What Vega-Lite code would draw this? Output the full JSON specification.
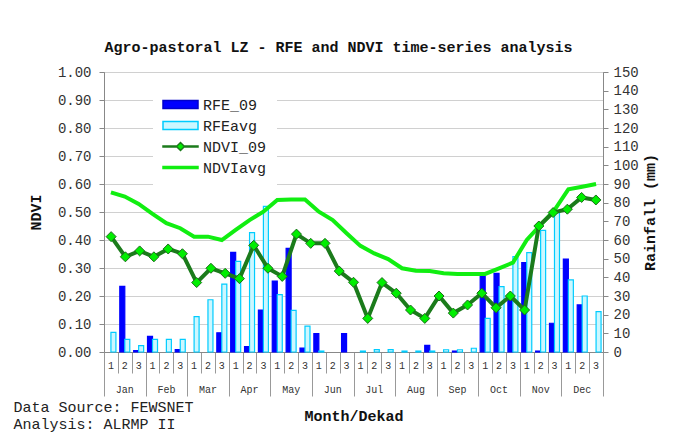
{
  "$schema": "https://vega.github.io/schema/vega-lite/v6.json",
  "width": 499,
  "height": 280,
  "autosize": {"type": "none"},
  "padding": {"left": 104, "top": 72, "right": 75, "bottom": 88},
  "background": "white",
  "title": {
    "text": "Agro-pastoral LZ - RFE and NDVI time-series analysis",
    "font": "Liberation Mono",
    "fontSize": 15,
    "fontWeight": "bold",
    "color": "#111",
    "anchor": "middle",
    "frame": "group",
    "offset": 10,
    "dx": -15
  },
  "config": {
    "view": {"stroke": "#888"},
    "axis": {
      "labelFont": "Liberation Mono",
      "titleFont": "Liberation Mono",
      "labelColor": "#333",
      "titleColor": "#111",
      "domainColor": "#888",
      "tickColor": "#888"
    }
  },
  "data": {
    "values": [
      {"i": 1, "m": "Jan", "k": "Jan 1", "RFE_09": 0, "RFEavg": 10.5, "NDVI_09": 0.412, "NDVIavg": 0.570},
      {"i": 2, "m": "Jan", "k": "Jan 2", "RFE_09": 35.2, "RFEavg": 6.8, "NDVI_09": 0.340, "NDVIavg": 0.555},
      {"i": 3, "m": "Jan", "k": "Jan 3", "RFE_09": 0.7, "RFEavg": 3.4, "NDVI_09": 0.361, "NDVIavg": 0.529},
      {"i": 4, "m": "Feb", "k": "Feb 1", "RFE_09": 8.4, "RFEavg": 6.8, "NDVI_09": 0.340, "NDVIavg": 0.493},
      {"i": 5, "m": "Feb", "k": "Feb 2", "RFE_09": 0, "RFEavg": 6.8, "NDVI_09": 0.368, "NDVIavg": 0.460},
      {"i": 6, "m": "Feb", "k": "Feb 3", "RFE_09": 1.3, "RFEavg": 6.8, "NDVI_09": 0.351, "NDVIavg": 0.442},
      {"i": 7, "m": "Mar", "k": "Mar 1", "RFE_09": 0, "RFEavg": 18.9, "NDVI_09": 0.248, "NDVIavg": 0.412},
      {"i": 8, "m": "Mar", "k": "Mar 2", "RFE_09": 0, "RFEavg": 28.0, "NDVI_09": 0.299, "NDVIavg": 0.412},
      {"i": 9, "m": "Mar", "k": "Mar 3", "RFE_09": 10.3, "RFEavg": 36.4, "NDVI_09": 0.281, "NDVIavg": 0.400},
      {"i": 10, "m": "Apr", "k": "Apr 1", "RFE_09": 53.4, "RFEavg": 48.6, "NDVI_09": 0.262, "NDVIavg": 0.436},
      {"i": 11, "m": "Apr", "k": "Apr 2", "RFE_09": 2.9, "RFEavg": 63.9, "NDVI_09": 0.381, "NDVIavg": 0.471},
      {"i": 12, "m": "Apr", "k": "Apr 3", "RFE_09": 22.5, "RFEavg": 78.0, "NDVI_09": 0.299, "NDVIavg": 0.501},
      {"i": 13, "m": "May", "k": "May 1", "RFE_09": 38.0, "RFEavg": 30.7, "NDVI_09": 0.270, "NDVIavg": 0.543},
      {"i": 14, "m": "May", "k": "May 2", "RFE_09": 55.5, "RFEavg": 22.3, "NDVI_09": 0.421, "NDVIavg": 0.545},
      {"i": 15, "m": "May", "k": "May 3", "RFE_09": 2.1, "RFEavg": 13.9, "NDVI_09": 0.388, "NDVIavg": 0.545},
      {"i": 16, "m": "Jun", "k": "Jun 1", "RFE_09": 9.8, "RFEavg": 0.5, "NDVI_09": 0.388, "NDVIavg": 0.501},
      {"i": 17, "m": "Jun", "k": "Jun 2", "RFE_09": 0, "RFEavg": 0, "NDVI_09": 0.289, "NDVIavg": 0.471},
      {"i": 18, "m": "Jun", "k": "Jun 3", "RFE_09": 9.8, "RFEavg": 0, "NDVI_09": 0.249, "NDVIavg": 0.424},
      {"i": 19, "m": "Jul", "k": "Jul 1", "RFE_09": 0, "RFEavg": 0.5, "NDVI_09": 0.120, "NDVIavg": 0.379},
      {"i": 20, "m": "Jul", "k": "Jul 2", "RFE_09": 0, "RFEavg": 1.3, "NDVI_09": 0.248, "NDVIavg": 0.352},
      {"i": 21, "m": "Jul", "k": "Jul 3", "RFE_09": 0, "RFEavg": 1.3, "NDVI_09": 0.210, "NDVIavg": 0.332},
      {"i": 22, "m": "Aug", "k": "Aug 1", "RFE_09": 0, "RFEavg": 0.5, "NDVI_09": 0.150, "NDVIavg": 0.299},
      {"i": 23, "m": "Aug", "k": "Aug 2", "RFE_09": 0, "RFEavg": 0.5, "NDVI_09": 0.120, "NDVIavg": 0.290},
      {"i": 24, "m": "Aug", "k": "Aug 3", "RFE_09": 3.6, "RFEavg": 0.5, "NDVI_09": 0.200, "NDVIavg": 0.289},
      {"i": 25, "m": "Sep", "k": "Sep 1", "RFE_09": 0, "RFEavg": 1.2, "NDVI_09": 0.139, "NDVIavg": 0.281},
      {"i": 26, "m": "Sep", "k": "Sep 2", "RFE_09": 0.5, "RFEavg": 1.2, "NDVI_09": 0.168, "NDVIavg": 0.279},
      {"i": 27, "m": "Sep", "k": "Sep 3", "RFE_09": 0, "RFEavg": 2.0, "NDVI_09": 0.210, "NDVIavg": 0.279},
      {"i": 28, "m": "Oct", "k": "Oct 1", "RFE_09": 40.7, "RFEavg": 18.0, "NDVI_09": 0.158, "NDVIavg": 0.279},
      {"i": 29, "m": "Oct", "k": "Oct 2", "RFE_09": 42.1, "RFEavg": 35.0, "NDVI_09": 0.200, "NDVIavg": 0.299},
      {"i": 30, "m": "Oct", "k": "Oct 3", "RFE_09": 30.9, "RFEavg": 51.1, "NDVI_09": 0.150, "NDVIavg": 0.319},
      {"i": 31, "m": "Nov", "k": "Nov 1", "RFE_09": 47.9, "RFEavg": 53.2, "NDVI_09": 0.450, "NDVIavg": 0.400},
      {"i": 32, "m": "Nov", "k": "Nov 2", "RFE_09": 0.5, "RFEavg": 65.2, "NDVI_09": 0.498, "NDVIavg": 0.454},
      {"i": 33, "m": "Nov", "k": "Nov 3", "RFE_09": 15.4, "RFEavg": 75.2, "NDVI_09": 0.510, "NDVIavg": 0.507},
      {"i": 34, "m": "Dec", "k": "Dec 1", "RFE_09": 49.8, "RFEavg": 38.6, "NDVI_09": 0.552, "NDVIavg": 0.581},
      {"i": 35, "m": "Dec", "k": "Dec 2", "RFE_09": 25.2, "RFEavg": 30.0, "NDVI_09": 0.543, "NDVIavg": 0.590},
      {"i": 36, "m": "Dec", "k": "Dec 3", "RFE_09": 0, "RFEavg": 21.6, "NDVI_09": null, "NDVIavg": 0.600}
    ]
  },
  "layer": [
    {
      "mark": {"type": "rule", "opacity": 0},
      "encoding": {
        "x": {
          "field": "i",
          "type": "quantitative",
          "scale": {"domain": [0, 36], "nice": false, "zero": false},
          "axis": {
            "orient": "bottom",
            "values": [0,1,2,3,4,5,6,7,8,9,10,11,12,13,14,15,16,17,18,19,20,21,22,23,24,25,26,27,28,29,30,31,32,33,34,35,36],
            "labels": false,
            "domain": false,
            "grid": false,
            "ticks": true,
            "tickColor": "#999",
            "tickSize": {"condition": {"test": "datum.value % 3 == 0", "value": 44}, "value": 21},
            "title": ["Data Source: FEWSNET", "Analysis: ALRMP II"],
            "titleFontSize": 15,
            "titleFontWeight": "normal",
            "titleColor": "#222",
            "titleAlign": "left",
            "titleAnchor": "start",
            "titleBaseline": "alphabetic",
            "titleLineHeight": 17,
            "titleX": -91,
            "titleY": 59
          }
        }
      }
    },
    {
      "mark": {"type": "rule", "opacity": 0},
      "encoding": {
        "x": {
          "field": "m",
          "type": "ordinal",
          "sort": null,
          "scale": {"type": "band", "paddingInner": 0, "paddingOuter": 0},
          "axis": {
            "orient": "bottom",
            "ticks": false,
            "tickSize": 0,
            "domain": false,
            "grid": false,
            "labelAngle": 0,
            "labelFontSize": 10,
            "labelPadding": 32,
            "title": "Month/Dekad",
            "titleFontSize": 15,
            "titleFontWeight": "bold",
            "titleX": 249.5,
            "titleY": 68,
            "titleAlign": "center",
            "titleBaseline": "alphabetic"
          }
        }
      }
    },
    {
      "transform": [{"fold": ["RFE_09", "RFEavg"], "as": ["series", "rain"]}],
      "mark": {"type": "bar", "strokeWidth": 1.2},
      "encoding": {
        "x": {
          "field": "k",
          "type": "ordinal",
          "sort": null,
          "scale": {"type": "band", "paddingInner": 0, "paddingOuter": 0},
          "axis": {
            "orient": "bottom",
            "ticks": false,
            "tickSize": 0,
            "domain": true,
            "domainColor": "#888",
            "grid": false,
            "labelAngle": 0,
            "labelFontSize": 10,
            "labelPadding": 8,
            "labelExpr": "split(datum.value, ' ')[1]",
            "title": null
          }
        },
        "xOffset": {
          "field": "series",
          "type": "nominal",
          "scale": {"domain": ["RFE_09", "RFEavg"], "paddingInner": 0, "paddingOuter": 0.386}
        },
        "y": {
          "field": "rain",
          "type": "quantitative",
          "scale": {"domain": [0, 150], "nice": false},
          "axis": {
            "orient": "right",
            "values": [0,10,20,30,40,50,60,70,80,90,100,110,120,130,140,150],
            "grid": false,
            "tickSize": 5,
            "labelPadding": 5,
            "labelFontSize": 14,
            "title": "Rainfall (mm)",
            "titleFontSize": 15,
            "titleFontWeight": "bold",
            "titleAngle": 270,
            "titlePadding": 19
          }
        },
        "color": {
          "field": "series",
          "type": "nominal",
          "scale": {"domain": ["RFE_09", "RFEavg", "NDVI_09", "NDVIavg"], "range": ["#0000ff", "#ccf7ff", "#00ee00", "#11ee11"]},
          "legend": {
            "orient": "none", "legendX": 49, "legendY": 15, "title": null,
            "padding": 10, "fillColor": "white",
            "symbolSize": 100, "symbolStrokeWidth": 1.5, "symbolOffset": 10,
            "labelFont": "Liberation Mono", "labelFontSize": 15, "labelColor": "#222", "labelOffset": 15, "rowPadding": 5,
            "values": ["RFE_09", "RFEavg", "NDVI_09", "NDVIavg"],
            "symbolType": {"expr": "datum.value == 'NDVIavg' ? 'M-3.5,-0.22H3.5V0.22H-3.5Z' : datum.value == 'NDVI_09' ? 'M-3.5,-0.12H-0.8V0.12H-3.5ZM0.8,-0.12H3.5V0.12H0.8ZM-0.8,0L0,-0.8L0.8,0L0,0.8Z' : 'M-3.5,-0.8H3.5V0.8H-3.5Z'"},
            "symbolStrokeColor": {"expr": "datum.value == 'RFE_09' ? '#0000cc' : datum.value == 'RFEavg' ? '#00ccff' : datum.value == 'NDVI_09' ? '#1b7b1b' : '#11ee11'"},
            "encode": {"symbols": {
              "shape": {"value": {"expr": "datum.value == 'NDVIavg' ? 'M-3.5,-0.22H3.5V0.22H-3.5Z' : datum.value == 'NDVI_09' ? 'M-3.5,-0.12H-0.8V0.12H-3.5ZM0.8,-0.12H3.5V0.12H0.8ZM-0.8,0L0,-0.8L0.8,0L0,0.8Z' : 'M-3.5,-0.8H3.5V0.8H-3.5Z'"}},
              "stroke": {"value": {"expr": "datum.value == 'RFE_09' ? '#0000cc' : datum.value == 'RFEavg' ? '#00ccff' : datum.value == 'NDVI_09' ? '#1b7b1b' : '#11ee11'"}},
              "opacity": {"value": 1}
            }}
          }
        },
        "stroke": {"condition": {"test": "datum.series == 'RFEavg'", "value": "#00ccff"}, "value": "#0000ff"},
        "opacity": {"condition": {"test": "datum.rain <= 0", "value": 0}, "value": 1}
      }
    },
    {
      "mark": {"type": "line", "strokeWidth": 4, "color": "#11ee11"},
      "encoding": {
        "x": {"field": "k", "type": "ordinal", "sort": null, "scale": {"type": "point", "padding": 0.5}, "axis": null},
        "y": {
          "field": "NDVIavg",
          "type": "quantitative",
          "scale": {"domain": [0, 1], "nice": false},
          "axis": {
            "orient": "left",
            "values": [0,0.1,0.2,0.3,0.4,0.5,0.6,0.7,0.8,0.9,1],
            "format": ".2f",
            "grid": true,
            "gridColor": "#d0d0d0",
            "tickSize": 5,
            "labelPadding": 8,
            "labelFontSize": 14,
            "title": "NDVI",
            "titleFontSize": 15,
            "titleFontWeight": "bold",
            "titlePadding": 14
          }
        }
      }
    },
    {
      "transform": [{"filter": "datum.NDVI_09 != null"}],
      "mark": {"type": "line", "strokeWidth": 4, "color": "#1b7b1b"},
      "encoding": {
        "x": {"field": "k", "type": "ordinal", "sort": null, "scale": {"type": "point", "padding": 0.5}, "axis": null},
        "y": {"field": "NDVI_09", "type": "quantitative", "scale": {"domain": [0, 1], "nice": false}, "axis": null}
      }
    },
    {
      "transform": [{"filter": "datum.NDVI_09 != null"}],
      "mark": {"type": "point", "shape": "diamond", "filled": true, "size": 100, "fill": "#00ee00", "stroke": "#1b6b1b", "strokeWidth": 1, "opacity": 1},
      "encoding": {
        "x": {"field": "k", "type": "ordinal", "sort": null, "scale": {"type": "point", "padding": 0.5}, "axis": null},
        "y": {"field": "NDVI_09", "type": "quantitative", "scale": {"domain": [0, 1], "nice": false}, "axis": null}
      }
    }
  ],
  "resolve": {
    "scale": {"x": "independent", "y": "independent"},
    "axis": {"x": "independent", "y": "independent"}
  }
}
